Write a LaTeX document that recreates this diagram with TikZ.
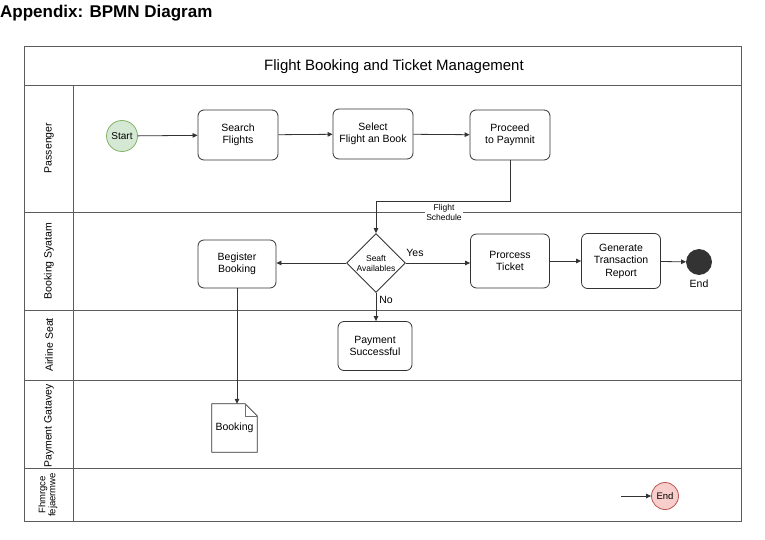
\documentclass[tikz,border=0pt]{standalone}
\usepackage{fontspec}
\setmainfont{Liberation Sans}
\usetikzlibrary{arrows.meta,shapes.geometric}
\definecolor{ln}{HTML}{333333}
\definecolor{startfill}{HTML}{D5E8D4}
\definecolor{startdraw}{HTML}{82B366}
\definecolor{endfill}{HTML}{F8CECC}
\definecolor{enddraw}{HTML}{B85450}
\tikzset{
  task/.style={draw=ln, line width=0.8pt, rounded corners=6pt, align=center,
    minimum width=80pt, minimum height=50pt, font=\fontsize{10.5}{12.5}\selectfont, inner sep=1pt},
  flow/.style={draw=ln, line width=0.8pt, -{Triangle[length=5pt,width=4.5pt]}},
  lanelbl/.style={rotate=90, font=\fontsize{10.5}{12}\selectfont, align=center},
  lanebox/.style={draw=ln!80, line width=0.9pt},
  smalllbl/.style={font=\fontsize{8.5}{10}\selectfont, align=center, inner sep=1pt}
}
\begin{document}
\begin{tikzpicture}[x=1pt,y=-1pt]
\useasboundingbox (0,0) rectangle (765,540);
\fill[white] (0,0) rectangle (765,540);
% heading
\node[anchor=west, font=\fontsize{17}{19}\bfseries\selectfont, inner sep=0pt] (head) at (0,13) {Appendix: BPMN Diagram};
% pool
\draw[lanebox] (24,46) rectangle (741,521);
\draw[lanebox] (24,85) -- (741,85);
\draw[lanebox] (73,85) -- (73,521);
\foreach \yy in {212,310,380,468} \draw[lanebox] (24,\yy) -- (741,\yy);
\node[font=\fontsize{15}{17}\selectfont] (title) at (394,67) {Flight Booking and Ticket Management};
% lane labels
\node[lanelbl] (l1) at (49,148) {Passenger};
\node[lanelbl] (l2) at (49,261) {Booking Syatam};
\node[lanelbl] (l3) at (49,345) {Airline Seat};
\node[lanelbl] (l4) at (49,426) {Payment Gatavey};
\node[lanelbl, font=\fontsize{9.5}{10}\selectfont] (l5) at (48,495) {Fhmrgce\\fejaermwe};
% passenger lane
\node[circle, draw=startdraw, fill=startfill, line width=0.8pt, minimum size=31pt, inner sep=0pt, font=\fontsize{10}{12}\selectfont] (start) at (122,136) {Start};
\node[task] (search) at (238,135) {Search\\Flights};
\node[task] (select) at (373,134) {Select\\Flight an Book};
\node[task] (proceed) at (510,135) {Proceed\\to Paymnit};
% booking system lane
\node[diamond, draw=ln, line width=0.8pt, minimum width=57pt, minimum height=57pt, inner sep=0pt, smalllbl] (gw) at (376,263) {Seaft\\Availables};
\node[task, minimum width=78pt, minimum height=48pt] (beg) at (237,264) {Begister\\Booking};
\node[task, minimum width=79pt, minimum height=54pt] (proc) at (510,261) {Prorcess\\Ticket};
\node[task, minimum width=79pt, minimum height=55pt] (gen) at (621,261) {Generate\\Transaction\\Report};
\node[circle, draw=ln, fill=ln, line width=0.8pt, minimum size=25pt, inner sep=0pt] (endb) at (699,262) {};
\node[font=\fontsize{10.5}{12}\selectfont] (endlbl) at (699,284) {End};
% airline seat lane
\node[task, minimum width=74pt, minimum height=49pt] (pay) at (375,346) {Payment\\Successful};
% payment gateway lane: document
\node[minimum width=45pt, minimum height=48pt, inner sep=0pt, font=\fontsize{10.5}{12}\selectfont] (doc) at (234.5,428) {Booking};
\draw[draw=ln, line width=0.8pt, fill=white] (doc.north west) -- ([xshift=-12pt]doc.north east) -- ([yshift=-12pt]doc.north east) -- (doc.south east) -- (doc.south west) -- cycle;
\draw[draw=ln!70, line width=0.5pt] ([xshift=-12pt]doc.north east) -- ([xshift=-12pt,yshift=-12pt]doc.north east) -- ([yshift=-12pt]doc.north east);
\node[font=\fontsize{10.5}{12}\selectfont] at (doc) {Booking};
% last lane
\coordinate (src) at (621,496);
\node[circle, draw=enddraw, fill=endfill, line width=0.8pt, minimum size=27pt, inner sep=0pt, font=\fontsize{9.5}{11}\selectfont] (endr) at (665,496) {End};
% flows
\draw[flow] (start) -- (search);
\draw[flow] (search) -- (select);
\draw[flow] (select) -- (proceed);
\coordinate (bend) at (510,201);
\draw[flow] (proceed.south) -- (bend) -- (gw.north |- bend) -- (gw.north);
\node[smalllbl, fill=white] (fs) at (444,212) {Flight\\Schedule};
\draw[flow] (gw.west) -- (gw.west -| beg.east);
\draw[flow] (gw.east) -- (gw.east -| proc.west);
\node[font=\fontsize{10.5}{12}\selectfont] (yes) at (415,253) {Yes};
\draw[flow] (proc.east) -- (proc.east -| gen.west);
\draw[flow] (gen) -- (endb);
\draw[flow] (gw.south) -- (pay.north -| gw.south);
\node[font=\fontsize{10.5}{12}\selectfont] (no) at (386,300) {No};
\draw[flow] (beg.south) -- (beg.south |- doc.north);
\draw[flow] (src) -- (endr);
\end{tikzpicture}
\end{document}
